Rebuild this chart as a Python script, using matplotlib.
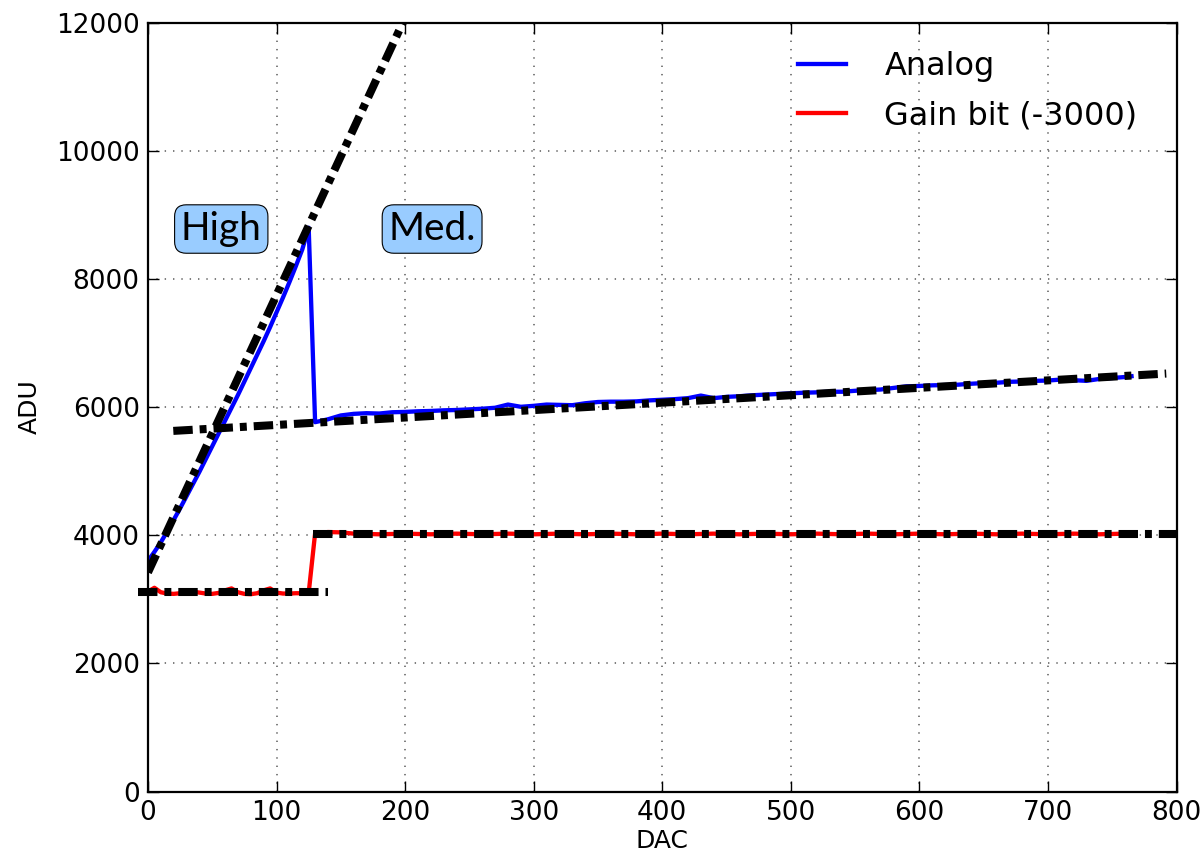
import matplotlib
matplotlib.use('Agg')
import matplotlib.pyplot as plt
import numpy as np

# DAC scan: high-gain part, then medium-gain part after the switch
dac_high = [0, 5, 10, 15, 20, 25, 30, 35, 40, 45, 50, 55, 60, 65, 70, 75, 80,
            85, 90, 95, 100, 105, 110, 115, 120, 125]
dac_med = [130, 140, 150, 160, 170, 180, 190, 200, 210, 220, 230, 240, 250,
           260, 270, 280, 290, 300, 310, 320, 330, 340, 350, 360, 370, 380,
           390, 400, 410, 420, 430, 440, 450, 460, 470, 480, 490, 500, 510,
           520, 530, 540, 550, 560, 570, 580, 590, 600, 610, 620, 630, 640,
           650, 660, 670, 680, 690, 700, 710, 720, 730, 740, 750, 760, 765]

analog_high = [3600, 3740, 3890, 4060, 4240, 4420, 4610, 4800, 4990, 5190,
               5390, 5590, 5790, 5990, 6190, 6400, 6610, 6820, 7030, 7250,
               7480, 7710, 7950, 8200, 8460, 8800]
analog_med = [5765, 5810, 5870, 5895, 5905, 5900, 5920, 5925, 5935, 5940,
              5950, 5955, 5965, 5975, 5990, 6040, 6005, 6020, 6040, 6035,
              6030, 6060, 6080, 6085, 6085, 6090, 6105, 6115, 6125, 6140,
              6180, 6140, 6160, 6170, 6185, 6195, 6205, 6215, 6225, 6230,
              6240, 6240, 6255, 6265, 6275, 6300, 6325, 6330, 6340, 6345,
              6350, 6365, 6375, 6380, 6395, 6400, 6410, 6415, 6430, 6420,
              6410, 6440, 6455, 6470, 6482]

gain_high = [3120, 3180, 3110, 3090, 3085, 3095, 3110, 3120, 3105, 3090,
             3085, 3100, 3140, 3170, 3110, 3085, 3080, 3095, 3140, 3170,
             3105, 3090, 3090, 3095, 3095, 3100]
gain_med = [4030, 4050, 4045, 4025, 4020, 4015, 4020, 4025, 4020, 4015,
            4020, 4025, 4020, 4015, 4020, 4025, 4020, 4015, 4020, 4025,
            4020, 4015, 4020, 4025, 4020, 4015, 4020, 4025, 4020, 4015,
            4020, 4025, 4020, 4015, 4020, 4025, 4020, 4015, 4020, 4025,
            4020, 4015, 4020, 4025, 4020, 4015, 4020, 4025, 4020, 4015,
            4020, 4025, 4020, 4015, 4020, 4025, 4020, 4015, 4020, 4025,
            4020, 4015, 4020, 4025, 4020]

# linear fits (slope, offset) and the DAC range each is drawn over
fit_high = (43.3, 3420)
fit_high_range = (0, 200)
fit_med = (1.159, 5606)
fit_med_range = (19.7, 792)
gain_low_level = 3110
gain_low_range = (-8, 140)
gain_high_level = 4020
gain_high_range = (128, 800)

plt.rcParams['font.family'] = ['DejaVu Sans']
plt.rcParams['lines.scale_dashes'] = False

fig = plt.figure(figsize=(12.03, 8.58), dpi=100)
ax = fig.add_axes([0.123, 0.0775, 0.855, 0.896])

dac = dac_high + dac_med
ax.plot(dac, analog_high + analog_med, color='#0000ff', lw=3.1, label='Analog')
ax.plot(dac, gain_high + gain_med, color='#ff0000', lw=3.1,
        label='Gain bit (-3000)')

dash = dict(color='k', lw=5.8, dashes=[14, 5, 5, 5], solid_capstyle='butt')
xs = np.array(fit_high_range)
ax.plot(xs, fit_high[0] * xs + fit_high[1], **dash)
xs = np.array(fit_med_range)
ax.plot(xs, fit_med[0] * xs + fit_med[1], **dash)
ax.plot(gain_low_range, [gain_low_level] * 2, clip_on=False, **dash)
ax.plot(gain_high_range, [gain_high_level] * 2, **dash)

box = dict(boxstyle='round,pad=0.16,rounding_size=0.3', fc='#99ccff',
           ec='k', lw=0.8)
ax.text(57, 8780, 'High', fontsize=28, family='Lato', ha='center',
        va='center', bbox=box)
ax.text(221, 8780, 'Med.', fontsize=28, family='Lato', ha='center',
        va='center', bbox=box)

ax.set_xlim(0, 800)
ax.set_ylim(0, 12000)
ax.set_xticks(range(0, 801, 100))
ax.set_yticks(range(0, 12001, 2000))
ax.set_xlabel('DAC', fontsize=18, labelpad=2)
ax.set_ylabel('ADU', fontsize=18, labelpad=10)
ax.tick_params(direction='in', top=True, right=True, length=8, width=1,
               labelsize=19, pad=6)
for s in ax.spines.values():
    s.set_linewidth(1.6)
ax.grid(True, color='0.45', linestyle=(0, (1, 5)), lw=1.3)

ax.legend(loc='upper right', frameon=False, fontsize=23, handlelength=1.5,
          handletextpad=1.2, bbox_to_anchor=(0.99, 1.0), labelspacing=0.55)

fig.savefig('out.png', dpi=100)
